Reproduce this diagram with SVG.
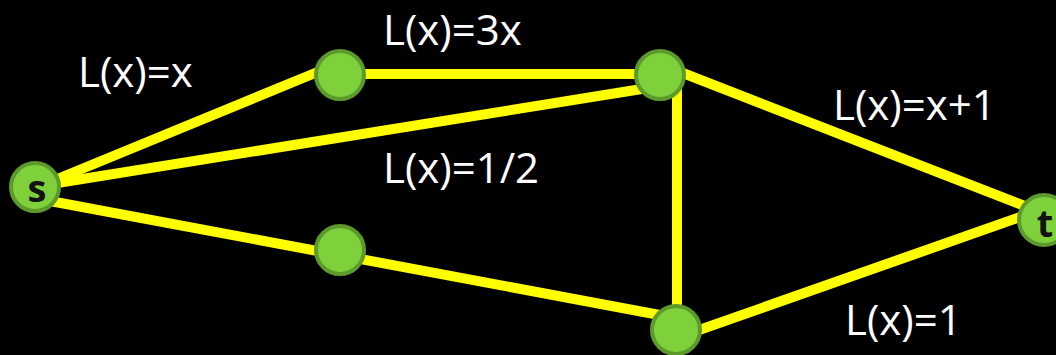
<svg xmlns="http://www.w3.org/2000/svg" width="1056" height="355" viewBox="0 0 1056 355">
<style>
.e{stroke:#ffff00;stroke-width:10;stroke-linecap:butt;fill:none}
.n{fill:#7fd13b;stroke:#5c9a2c;stroke-width:4}
.lbl{font-family:"Open Sans","Liberation Sans",sans-serif;font-size:42px;fill:#ffffff}
.nl{font-family:"Open Sans","Liberation Sans",sans-serif;font-size:38px;font-weight:bold;fill:#111111;text-anchor:middle}
</style>
<rect width="1056" height="355" fill="#000000"/>
<g id="connectors">
<line class="e" x1="50" y1="182" x2="320" y2="71"/>
<line class="e" x1="45" y1="185" x2="648" y2="88"/>
<line class="e" x1="50" y1="201" x2="665" y2="316"/>
<line class="e" x1="340" y1="74" x2="660" y2="74"/>
<line class="e" x1="677" y1="85" x2="677" y2="315"/>
<line class="e" x1="670" y1="68" x2="1040" y2="212"/>
<line class="e" x1="685" y1="335" x2="1040" y2="210"/>
</g>
<g id="node-s"><circle class="n" cx="35" cy="187" r="24"/><text class="nl" x="37" y="202">s</text></g>
<g id="node-a"><circle class="n" cx="340" cy="75" r="24"/></g>
<g id="node-b"><circle class="n" cx="660" cy="75" r="24"/></g>
<g id="node-c"><circle class="n" cx="340" cy="250" r="24"/></g>
<g id="node-d"><circle class="n" cx="676" cy="330" r="24"/></g>
<g id="node-t"><circle class="n" cx="1044" cy="220" r="25"/><text class="nl" x="1045" y="237">t</text></g>
<g id="labels">
<text class="lbl" x="78" y="87">L(x)=x</text>
<text class="lbl" x="383" y="45">L(x)=3x</text>
<text class="lbl" x="383" y="183">L(x)=1/2</text>
<text class="lbl" x="833" y="120">L(x)=x+1</text>
<text class="lbl" x="845" y="335">L(x)=1</text>
</g>
</svg>
